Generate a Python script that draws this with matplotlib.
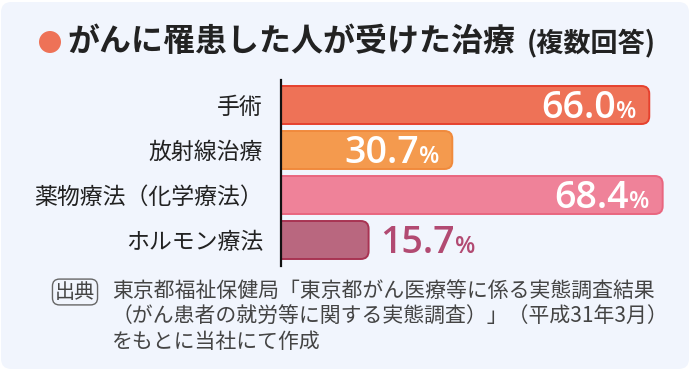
import matplotlib
matplotlib.use("Agg")
import matplotlib.pyplot as plt
from matplotlib.patches import FancyBboxPatch, Ellipse

plt.rcParams['font.family'] = ['Noto Sans CJK JP', 'DejaVu Sans']

categories = ["手術", "放射線治療", "薬物療法（化学療法）", "ホルモン療法"]
values = [66.0, 30.7, 68.4, 15.7]
value_labels = ["66.0", "30.7", "68.4", "15.7"]
fills = ["#ee7257", "#f49a4e", "#ef8299", "#b9677f"]
edges = ["#e6412e", "#f08a3c", "#e9667f", "#a83352"]
inside = [True, True, True, False]
outside_color = "#b24a72"
title = "がんに罹患した人が受けた治療"
subtitle = "(複数回答)"
source_tag = "出典"
source_lines = ["東京都福祉保健局「東京都がん医療等に係る実態調査結果",
                "（がん患者の就労等に関する実態調査）」（平成31年3月）",
                "をもとに当社にて作成"]

W, H = 690, 370
fig = plt.figure(figsize=(W / 100, H / 100), dpi=100)
fig.patch.set_facecolor("white")

def fx(x):
    return x / W

def fy(y):
    return 1 - y / H

# rounded background
bg = FancyBboxPatch((fx(1), fy(369)), fx(688), 367 / H,
                    boxstyle="round,pad=0,rounding_size=0.015",
                    mutation_aspect=W / H,
                    transform=fig.transFigure, facecolor="#f1f5fd",
                    edgecolor="none", zorder=-5)
fig.patches.append(bg)

# title
fig.patches.append(Ellipse((fx(50), fy(42)), 22 / W, 22 / H,
                           transform=fig.transFigure, facecolor="#ee7257",
                           edgecolor="none", zorder=-4))
fig.text(fx(67), fy(42), title, fontsize=23, fontweight="bold",
         color="#222222", ha="left", va="center")
fig.text(fx(527), fy(43), subtitle, fontsize=19.5, fontweight="bold",
         color="#222222", ha="left", va="center")

# axes
ax_left, ax_top, ax_bottom = 281, 80, 266
ax = fig.add_axes([fx(ax_left), fy(ax_bottom), fx(W - ax_left),
                   (ax_bottom - ax_top) / H])
ax.set_facecolor("none")
ax.set_zorder(2)
px_per_unit = 5.58
ax.set_xlim(0, (W - ax_left) / px_per_unit)
ax.set_ylim(3 + 26 / 45, -25 / 45)
for s in ["top", "right", "bottom"]:
    ax.spines[s].set_visible(False)
ax.spines["left"].set_linewidth(1.6)
ax.spines["left"].set_color("#111111")
ax.spines["left"].set_zorder(5)
ax.set_xticks([])
ax.set_yticks(range(len(categories)))
ax.set_yticklabels(categories, fontsize=16.5, color="#222222")
ax.tick_params(axis="y", length=0, pad=13)

bh = 38 / 45
for i, (v, fc, ec) in enumerate(zip(values, fills, edges)):
    p = FancyBboxPatch((-4, i - bh / 2), v + 4, bh,
                       boxstyle="round,pad=0,rounding_size=1.4",
                       mutation_aspect=(1 / 45) / (1 / px_per_unit),
                       facecolor=fc, edgecolor=ec, linewidth=1.4,
                       clip_on=True, zorder=2)
    ax.add_patch(p)
    if inside[i]:
        pct = ax.annotate("%", xy=(v, i), xycoords="data",
                          xytext=(-9.5, -9.6), textcoords="offset points",
                          ha="right", va="baseline", fontsize=17,
                          fontweight="semibold", color="white",
                          family="Open Sans", zorder=4)
        ax.annotate(value_labels[i], xy=(0, i), xycoords=(pct, "data"),
                    xytext=(0, -9.6), textcoords="offset points",
                    ha="right", va="baseline", fontsize=27,
                    fontweight="semibold", color="white",
                    family="Open Sans", zorder=4)
    else:
        num = ax.annotate(value_labels[i], xy=(v, i), xycoords="data",
                          xytext=(8.5, -9.6), textcoords="offset points",
                          ha="left", va="baseline", fontsize=27,
                          fontweight="semibold", color=outside_color,
                          family="Open Sans", zorder=4)
        ax.annotate("%", xy=(1, i), xycoords=(num, "data"),
                    xytext=(0, -9.6), textcoords="offset points",
                    ha="left", va="baseline", fontsize=17,
                    fontweight="semibold", color=outside_color,
                    family="Open Sans", zorder=4)

# source
fig.text(fx(75), fy(292), source_tag, fontsize=14.5, color="#444444",
         ha="center", va="center",
         bbox=dict(boxstyle="round,pad=0.12,rounding_size=0.35",
                   facecolor="none", edgecolor="#666666", linewidth=1.0))
for k, line in enumerate(source_lines):
    fig.text(fx(112), fy(292 + 25 * k), line, fontsize=15,
             color="#444444", ha="left", va="center")

fig.savefig("out.png", dpi=100, facecolor="white")
